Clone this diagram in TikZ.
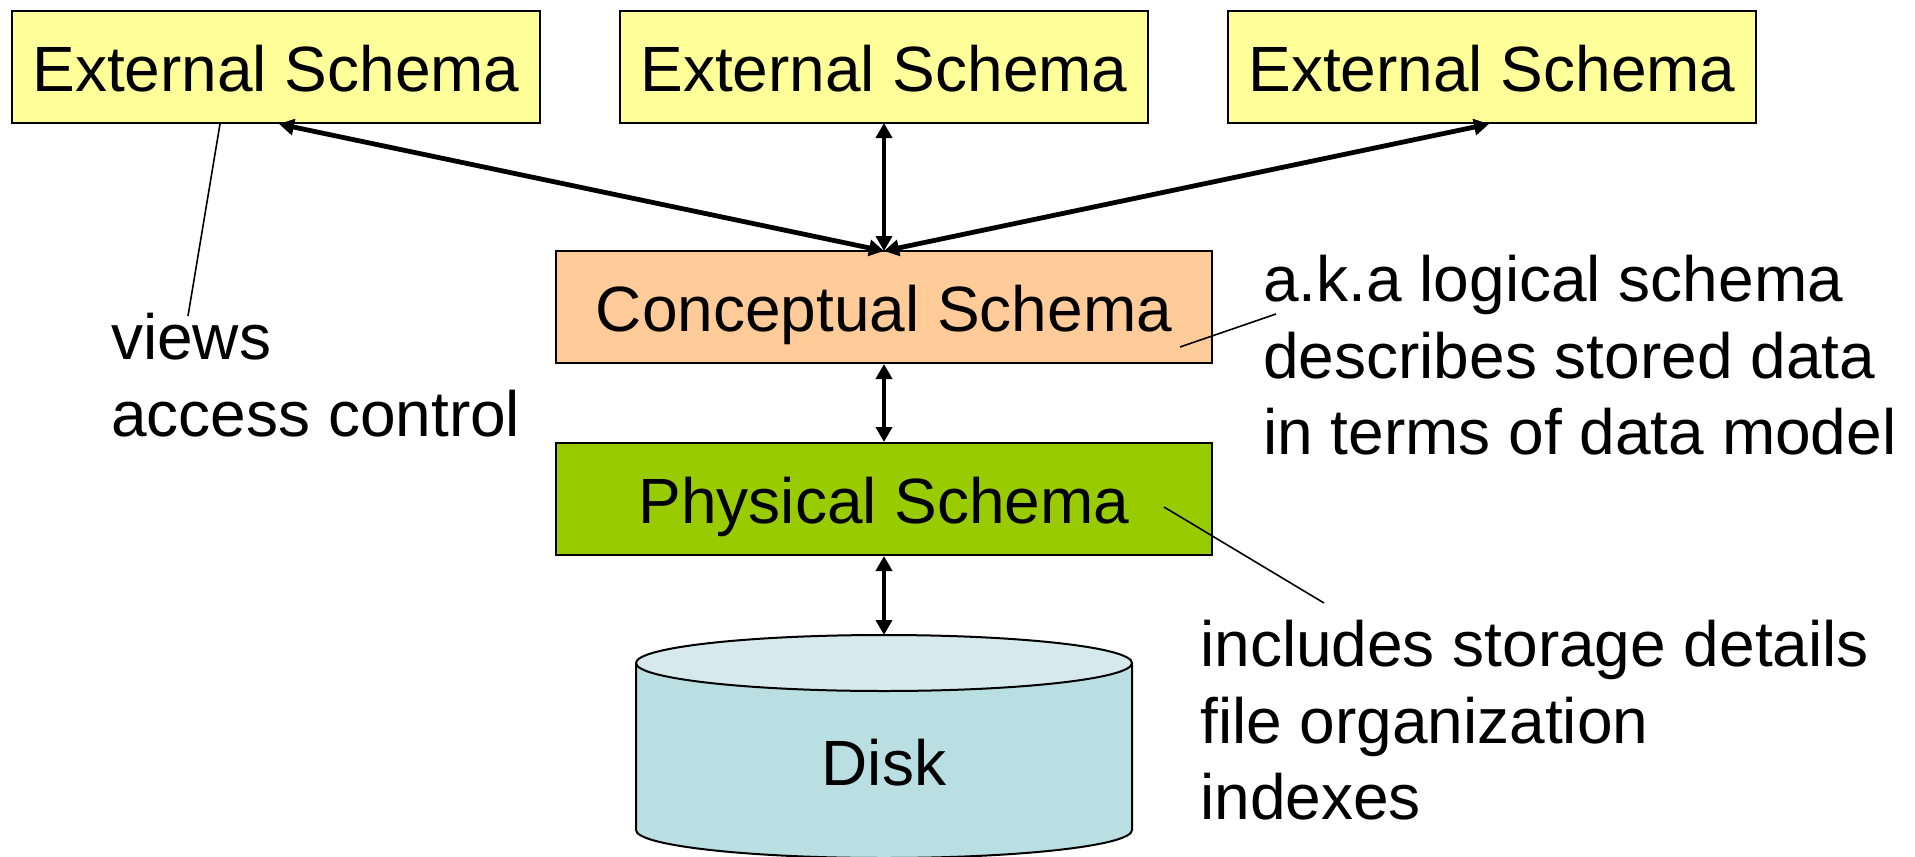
\documentclass[tikz,border=0pt]{standalone}
\usepackage{fontspec}
\setmainfont{Liberation Sans}
\usetikzlibrary{positioning,arrows.meta,shapes.geometric}
\definecolor{extcolor}{HTML}{FFFF99}
\definecolor{concolor}{HTML}{FFCC99}
\definecolor{phycolor}{HTML}{99CC00}
\definecolor{diskcolor}{HTML}{B9DFE3}
\definecolor{disktop}{HTML}{D6EAEE}
\tikzset{
  schema/.style={draw=black, line width=2pt, minimum width=528pt, minimum height=112pt, inner sep=0pt, text height=49pt, text depth=0pt, font=\fontsize{64}{64}\selectfont},
  note/.style={align=left, anchor=north west, inner sep=0pt, font=\fontsize{64}{76.5}\selectfont},
  link/.style={{Triangle[length=15pt,width=16pt]}-{Triangle[length=15pt,width=16pt]}, line width=4.8pt},
  leader/.style={draw=black, line width=1.6pt}
}
\begin{document}
\begin{tikzpicture}[x=1pt,y=-1pt]
    \useasboundingbox (0,0) rectangle (1915,857);

    \node[schema, fill=extcolor] (ext1) at (276,67) {External Schema};
    \node[schema, fill=extcolor] (ext2) at (884,67) {External Schema};
    \node[schema, fill=extcolor] (ext3) at (1492,67) {External Schema};

    \node[schema, fill=concolor, minimum width=656pt] (concept) at (884,307) {Conceptual Schema};
    \node[schema, fill=phycolor, minimum width=656pt] (physical) at (884,499) {Physical Schema};

    % disk
    \draw[line width=2pt, fill=diskcolor] (636,663) -- (636,830) arc[start angle=180, end angle=360, x radius=248, y radius=-28] -- (1132,663);
    \draw[line width=2pt, fill=disktop] (884,663) ellipse[x radius=248, y radius=28];
    \node[font=\fontsize{64}{64}\selectfont] (disk) at (884,763) {Disk};
    \coordinate (disktopc) at (884,635);

    \coordinate (concepttop) at (884,251);
    \draw[link] (ext1.south) ++(3,0) coordinate (ext1end) -- (concepttop);
    \draw[link] (ext2) ++(0,56) -- (concepttop);
    \draw[link] (ext3.south) ++(-3,0) -- (concepttop);
    \draw[link] (concept) -- (physical);
    \draw[link] (physical) -- (disktopc);

    \node[note] (viewsnote) at (111,313) {views\\access control};
    \node[note] (conceptnote) at (1263,255) {a.k.a logical schema\\describes stored data\\in terms of data model};
    \node[note] (physicalnote) at (1200,620) {includes storage details\\file organization\\indexes};

    \coordinate (viewsend) at (188,316);
    \coordinate (viewsstart) at (220,124);
    \draw[leader] (viewsstart) -- (viewsend);
    \coordinate (conceptstart) at (1276,314);
    \coordinate (conceptend) at (1180,347);
    \draw[leader] (conceptstart) -- (conceptend);
    \coordinate (physicalstart) at (1164,507);
    \coordinate (physicalend) at (1324,603);
    \draw[leader] (physicalstart) -- (physicalend);
\end{tikzpicture}
\end{document}
